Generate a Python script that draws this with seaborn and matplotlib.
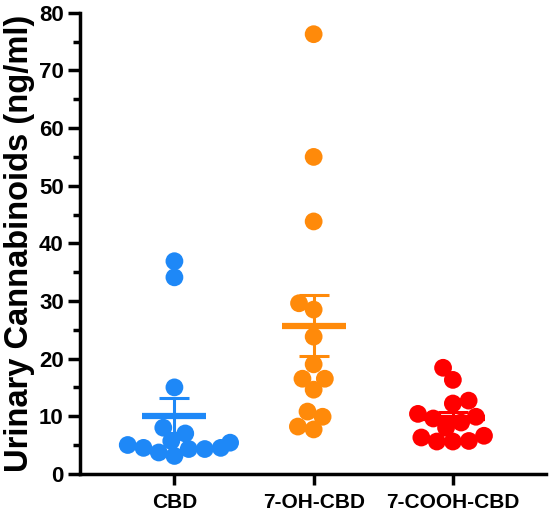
import numpy as np
import pandas as pd
import matplotlib
matplotlib.use('Agg')
import matplotlib.pyplot as plt
import seaborn as sns
from matplotlib.ticker import MultipleLocator

# values (ng/ml)
cbd = [36.9, 34.1, 15.0, 8.0, 7.0, 5.7, 5.4, 5.0, 4.5, 4.5, 4.3, 4.3, 3.7, 3.1]
oh_cbd = [76.3, 55.0, 43.8, 29.6, 28.5, 23.8, 19.0, 16.5, 16.5, 14.6, 10.8, 9.9, 8.2, 7.7]
cooh_cbd = [18.4, 16.3, 12.7, 12.2, 10.4, 9.9, 9.6, 8.9, 8.0, 6.6, 6.3, 5.7, 5.6, 5.6]

groups = ['CBD', '7-OH-CBD', '7-COOH-CBD']
colors = ['#1E88F7', '#FF8A0A', '#FF0000']

df = pd.DataFrame({
    'group': ['CBD'] * len(cbd) + ['7-OH-CBD'] * len(oh_cbd) + ['7-COOH-CBD'] * len(cooh_cbd),
    'value': cbd + oh_cbd + cooh_cbd,
})

sns.set_style('white')
plt.rcParams['font.family'] = ['Liberation Sans', 'DejaVu Sans']
plt.rcParams['font.weight'] = 'bold'
plt.rcParams['text.color'] = 'black'
plt.rcParams['axes.labelcolor'] = 'black'
plt.rcParams['xtick.color'] = 'black'
plt.rcParams['ytick.color'] = 'black'

fig = plt.figure(figsize=(5.5, 5.15), dpi=100)
ax = fig.add_axes([0.145, 0.08, 0.848, 0.895])

ax.set_ylim(0, 80)
ax.set_xlim(-0.68, 2.67)

# swarm laid out with smaller markers, then enlarged so they overlap like the original
sns.swarmplot(data=df, x='group', y='value', hue='group', order=groups,
              palette=colors, size=11, legend=False, ax=ax)
ax.set_xlim(-0.68, 2.67)
fig.canvas.draw()
for c in ax.collections:
    c.__dict__.pop('draw', None)
    c.set_sizes([12.8 ** 2])
    c.set_zorder(3)

# mean +/- SEM
stats = df.groupby('group')['value'].agg(['mean', 'sem']).reindex(groups)
for i, g in enumerate(groups):
    m, s = stats.loc[g, 'mean'], stats.loc[g, 'sem']
    ax.hlines(m, i - 0.23, i + 0.23, color=colors[i], lw=4.5, zorder=4)
    ax.errorbar(i, m, yerr=s, color=colors[i], lw=2.2, capsize=11,
                capthick=2.2, zorder=4)

ax.yaxis.set_major_locator(MultipleLocator(10))
ax.yaxis.set_minor_locator(MultipleLocator(5))

sns.despine(ax=ax)
for sp in ['left', 'bottom']:
    ax.spines[sp].set_linewidth(2.5)
    ax.spines[sp].set_color('black')

ax.tick_params(axis='y', which='major', length=8.5, width=2.5, left=True,
               labelsize=16, pad=3, colors='black')
ax.tick_params(axis='y', which='minor', length=5, width=2.5, left=True, colors='black')
ax.tick_params(axis='x', length=8, width=2.5, bottom=True, labelsize=15, pad=6,
               colors='black')

ax.set_xlabel('')
ax.set_ylabel('Urinary Cannabinoids (ng/ml)', fontsize=23.5, fontweight='bold',
              labelpad=3, color='black')
for lbl in ax.get_xticklabels() + ax.get_yticklabels():
    lbl.set_fontweight('bold')

fig.savefig('out.png', dpi=100)
